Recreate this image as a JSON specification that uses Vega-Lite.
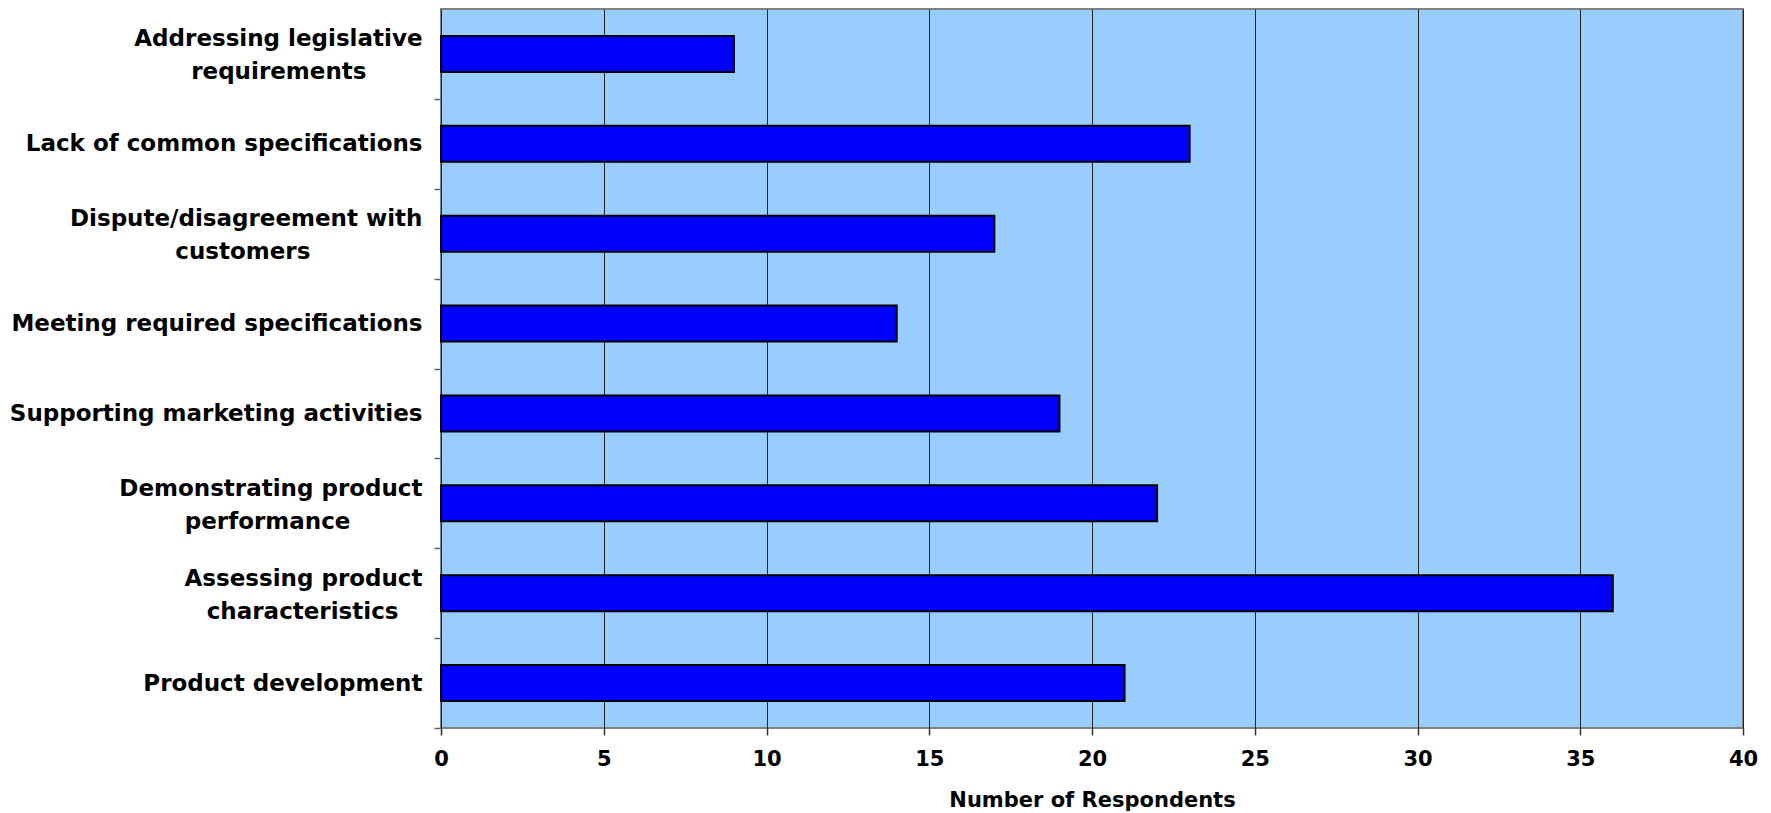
{
  "$schema": "https://vega.github.io/schema/vega-lite/v6.json",
  "width": 1302,
  "height": 719,
  "autosize": {"type": "none"},
  "padding": {"left": 441, "top": 9, "right": 28, "bottom": 85},
  "background": "white",
  "config": {
    "font": "DejaVu Sans",
    "view": {"fill": "#99CCFF", "stroke": "#808080", "strokeWidth": 2}
  },
  "data": {
    "values": [
      {"issue": "Addressing legislative requirements", "respondents": 9},
      {"issue": "Lack of common specifications", "respondents": 23},
      {"issue": "Dispute/disagreement with customers", "respondents": 17},
      {"issue": "Meeting required specifications", "respondents": 14},
      {"issue": "Supporting marketing activities", "respondents": 19},
      {"issue": "Demonstrating product performance", "respondents": 22},
      {"issue": "Assessing product characteristics", "respondents": 36},
      {"issue": "Product development", "respondents": 21}
    ]
  },
  "mark": {"type": "bar", "color": "#0000FF", "stroke": "#000000", "strokeWidth": 2},
  "encoding": {
    "y": {
      "field": "issue",
      "type": "nominal",
      "sort": null,
      "scale": {"paddingInner": 0.6, "paddingOuter": 0.3},
      "axis": {
        "title": null,
        "domain": false,
        "grid": false,
        "bandPosition": 1,
        "tickOffset": 27,
        "labelOffset": {
          "condition": {
            "test": "indexof(['Addressing legislative requirements', 'Dispute/disagreement with customers', 'Demonstrating product performance', 'Assessing product characteristics'], datum.value) >= 0",
            "value": -25
          },
          "value": -27
        },
        "tickExtra": false,
        "tickSize": 7,
        "tickColor": "#666666",
        "tickWidth": 1.5,
        "labelFont": "DejaVu Sans",
        "labelFontWeight": "bold",
        "labelFontSize": 23,
        "labelColor": "#000000",
        "labelPadding": 12,
        "labelLimit": 0,
        "labelLineHeight": 33,
        "labelBaseline": {
          "condition": {
            "test": "indexof(['Addressing legislative requirements', 'Dispute/disagreement with customers', 'Demonstrating product performance', 'Assessing product characteristics'], datum.value) >= 0",
            "value": "line-bottom"
          },
          "value": "middle"
        },
        "labelExpr": "datum.value == 'Addressing legislative requirements' ? ['Addressing legislative', 'requirements\u00a0\u00a0\u00a0\u00a0\u00a0\u00a0\u00a0\u200b'] : datum.value == 'Dispute/disagreement with customers' ? ['Dispute/disagreement with', 'customers\u00a0\u00a0\u00a0\u00a0\u00a0\u00a0\u00a0\u00a0\u00a0\u00a0\u00a0\u00a0\u00a0\u00a0\u200b'] : datum.value == 'Demonstrating product performance' ? ['Demonstrating product', 'performance\u00a0\u00a0\u00a0\u00a0\u00a0\u00a0\u00a0\u00a0\u00a0\u200b'] : datum.value == 'Assessing product characteristics' ? ['Assessing product', 'characteristics\u00a0\u00a0\u00a0\u200b'] : datum.value"
      }
    },
    "x": {
      "field": "respondents",
      "type": "quantitative",
      "scale": {"domain": [0, 40], "nice": false},
      "axis": {
        "title": "Number of Respondents",
        "titleFont": "DejaVu Sans",
        "titleFontWeight": "bold",
        "titleFontSize": 21,
        "titleColor": "#000000",
        "titlePadding": 20,
        "values": [0, 5, 10, 15, 20, 25, 30, 35, 40],
        "domain": false,
        "grid": true,
        "gridColor": "#222222",
        "gridWidth": 1,
        "tickSize": 7,
        "tickColor": "#333333",
        "tickWidth": 1.5,
        "labelFont": "DejaVu Sans",
        "labelFontWeight": "bold",
        "labelFontSize": 21,
        "labelColor": "#000000",
        "labelPadding": 13,
        "labelFlush": false
      }
    }
  }
}
